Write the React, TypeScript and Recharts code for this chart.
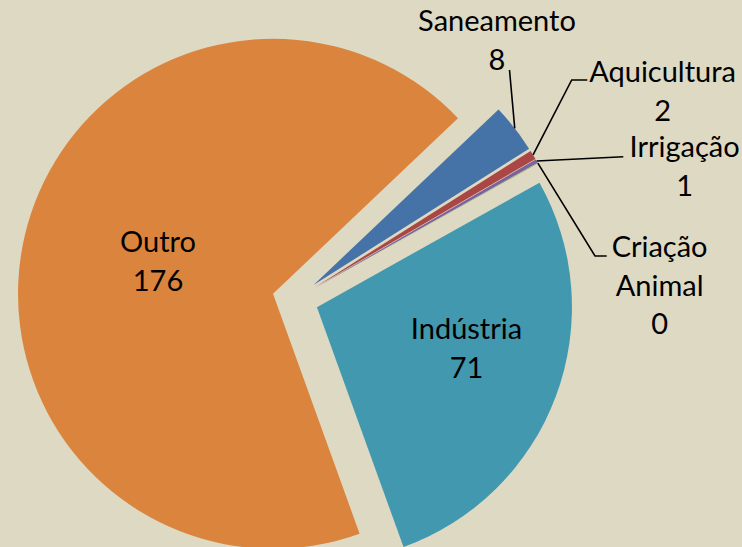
import React from 'react';
import { PieChart, Pie, Cell } from 'recharts';

// ---- data (clockwise order, first slice starts upper right) ----
const categories = ['Saneamento', 'Aquicultura', 'Irrigação', 'Criação Animal', 'Indústria', 'Outro'];
const values = [8, 1.5, 0.6, 0.1, 71, 176];
const colors = ['#4572A7', '#AA4643', '#7B61A0', '#89A54E', '#4198AF', '#DB843D'];

// ---- layout / style ----
const W = 742;
const H = 547;
const PIE_CENTER = { x: 295.4, y: 299.1 };
const RADIUS = 255;
const EXPLODE = 23;
const START_ANGLE = 43.5;
const FONT = 'Lato, "Open Sans", sans-serif';
const FONT_SIZE = 29;
const LINE_H = 38.8;

// text block anchor: center x, baseline of first line; leader: points after slice edge
const LABEL_LAYOUT: Record<string, { x: number; y: number; leader?: [number, number][] }> = {
  Saneamento: { x: 497, y: 31, leader: [[509.5, 70]] },
  Aquicultura: { x: 662.6, y: 81.7, leader: [[571.7, 80], [587.3, 80]] },
  'Irrigação': { x: 684.6, y: 157.3, leader: [[623.3, 156.7]] },
  'Criação Animal': { x: 659.6, y: 256.7, leader: [[595, 256], [606.7, 256]] },
  'Indústria': { x: 466.5, y: 339 },
  Outro: { x: 158, y: 252 },
};

const data = categories.map((name, i) => ({ name, value: values[i] }));
const total = values.reduce((a, b) => a + b, 0);

const RAD = Math.PI / 180;
const midAngles = (() => {
  let acc = 0;
  return values.map((v) => {
    const start = START_ANGLE - (360 * acc) / total;
    acc += v;
    return start - (360 * v) / total / 2;
  });
})();

const makeLabel = (k: number) => (props: any) => {
  if (props.index !== k) return null;
  const name: string = props.payload?.name ?? props.name;
  const value: number = props.value ?? props.payload?.value;
  const layout = LABEL_LAYOUT[name];
  if (!layout) return null;
  const lines = [...name.split(' '), String(Math.round(value))];
  const sx = props.cx + props.outerRadius * Math.cos(-props.midAngle * RAD);
  const sy = props.cy + props.outerRadius * Math.sin(-props.midAngle * RAD);
  return (
    <g>
      {layout.leader && (
        <polyline
          points={[[sx, sy], ...layout.leader].map((p) => p.join(',')).join(' ')}
          fill="none"
          stroke="#000"
          strokeWidth={1.6}
        />
      )}
      {lines.map((t, i) => (
        <text
          key={i}
          x={layout.x}
          y={layout.y + i * LINE_H}
          textAnchor="middle"
          fontFamily={FONT}
          fontSize={FONT_SIZE}
          fill="#000"
        >
          {t}
        </text>
      ))}
    </g>
  );
};

export default function App() {
  return (
    <div
      style={{
        position: 'fixed',
        left: 0,
        top: 0,
        width: W,
        height: H,
        background: '#DDD9C3',
        overflow: 'hidden',
      }}
    >
      <PieChart width={W} height={H} margin={{ top: 0, right: 0, bottom: 0, left: 0 }}>
        {categories.map((cat, k) => (
          <Pie
            key={cat}
            data={data}
            dataKey="value"
            nameKey="name"
            cx={PIE_CENTER.x + EXPLODE * Math.cos(midAngles[k] * RAD)}
            cy={PIE_CENTER.y - EXPLODE * Math.sin(midAngles[k] * RAD)}
            innerRadius={0}
            outerRadius={RADIUS}
            startAngle={START_ANGLE}
            endAngle={START_ANGLE - 360}
            stroke="none"
            isAnimationActive={false}
            labelLine={false}
            label={makeLabel(k)}
          >
            {data.map((d, i) => (
              <Cell key={d.name} fill={i === k ? colors[i] : 'none'} stroke="none" />
            ))}
          </Pie>
        ))}
      </PieChart>
    </div>
  );
}
